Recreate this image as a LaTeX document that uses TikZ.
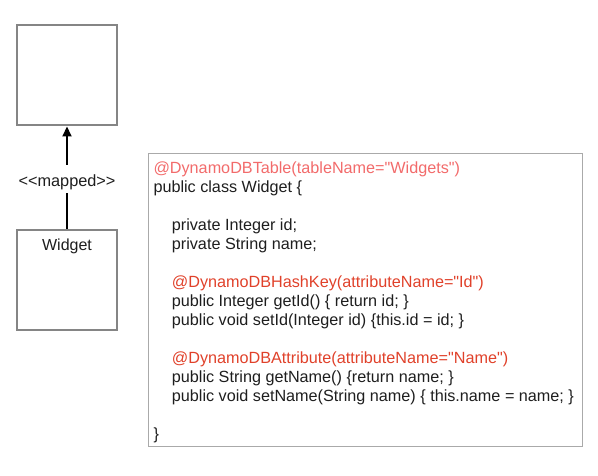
\documentclass[tikz,border=0pt]{standalone}
\usepackage{fontspec}
\setmainfont{Liberation Sans}[Ligatures=TeXOff]
\usetikzlibrary{arrows.meta}
\definecolor{boxgray}{HTML}{858585}
\definecolor{codegray}{HTML}{AAAAAA}
\definecolor{annolight}{HTML}{F26B6B}
\definecolor{annodark}{HTML}{E0412A}
\definecolor{txt}{HTML}{1E1E1E}
\begin{document}
\begin{tikzpicture}[x=1pt,y=-1pt,
  umlbox/.style={draw=boxgray, line width=2pt, minimum width=100pt, minimum height=100pt, inner sep=0pt},
  codeline/.style={anchor=base west, inner sep=0pt, text=txt, font=\fontsize{16.2}{19}\selectfont},
  anno/.style={codeline, text=annodark},
  conn/.style={line width=2.2pt, black}]
\useasboundingbox (0,0) rectangle (598,476);
\node[umlbox] (table) at (67,75.5) {};
\node[umlbox] (widget) at (67,280) {};
\node[anchor=base, inner sep=0pt, text=txt, font=\fontsize{16}{19}\selectfont] (wname) at (67,251) {Widget};
\node[anchor=base, inner sep=0pt, text height=22pt, text depth=6pt, text=txt, font=\fontsize{16.3}{19}\selectfont] (lbl) at (67,187) {<<mapped>>};
\draw[conn] (widget.north) -- (lbl.south);
\draw[conn, -{Triangle[length=10pt,width=9pt]}] (lbl.north) -- (table.south);
\draw[codegray, line width=1pt] (148.5,153.5) rectangle (582.5,446.5);
\node[codeline, text=annolight] (c1) at (153.3,174) {@DynamoDBTable(tableName="Widgets")};
\node[codeline] (c2) at (153.3,192.93) {public class Widget \{};
\node[codeline] (c4) at (171.7,230.79) {private Integer id;};
\node[codeline] (c5) at (171.7,249.72) {private String name;};
\node[anno] (c7) at (171.7,287.58) {@DynamoDBHashKey(attributeName="Id")};
\node[codeline] (c8) at (171.7,306.51) {public Integer getId() \{ return id; \}};
\node[codeline] (c9) at (171.7,325.44) {public void setId(Integer id) \{this.id = id; \}};
\node[anno] (c11) at (171.7,363.3) {@DynamoDBAttribute(attributeName="Name")};
\node[codeline] (c12) at (171.7,382.23) {public String getName() \{return name; \}};
\node[codeline] (c13) at (171.7,401.16) {public void setName(String name) \{ this.name = name; \}};
\node[codeline] (c15) at (153.3,439.02) {\}};
\end{tikzpicture}
\end{document}
